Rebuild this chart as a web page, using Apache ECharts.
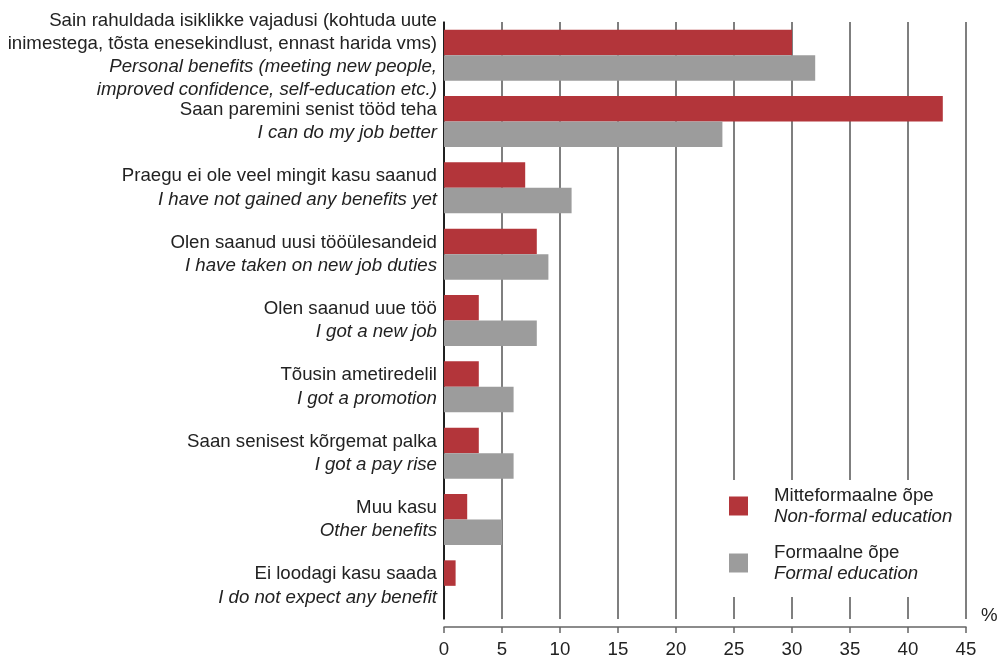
<!DOCTYPE html>
<html>
<head>
<meta charset="utf-8">
<script src="https://cdn.jsdelivr.net/npm/echarts@6/dist/echarts.min.js"></script>
<style>html,body{margin:0;padding:0;background:#fff}#c{width:998px;height:655px}</style>
</head>
<body>
<div id="c"></div>
<script>
var categoriesEt = [
  'Sain rahuldada isiklikke vajadusi (kohtuda uute\ninimestega, tõsta enesekindlust, ennast harida vms)',
  'Saan paremini senist tööd teha',
  'Praegu ei ole veel mingit kasu saanud',
  'Olen saanud uusi tööülesandeid',
  'Olen saanud uue töö',
  'Tõusin ametiredelil',
  'Saan senisest kõrgemat palka',
  'Muu kasu',
  'Ei loodagi kasu saada'
];
var categoriesEn = [
  'Personal benefits (meeting new people,\nimproved confidence, self-education etc.)',
  'I can do my job better',
  'I have not gained any benefits yet',
  'I have taken on new job duties',
  'I got a new job',
  'I got a promotion',
  'I got a pay rise',
  'Other benefits',
  'I do not expect any benefit'
];
var nonFormal = [30, 43, 7, 8, 3, 3, 3, 2, 1];
var formal = [32, 24, 11, 9, 8, 6, 6, 5, 0];
var seriesEt = ['Mitteformaalne õpe', 'Formaalne õpe'];
var seriesEn = ['Non-formal education', 'Formal education'];
var xTicks = [0, 5, 10, 15, 20, 25, 30, 35, 40, 45];

function richBlock(et, en) {
  var a = et.split('\n').map(function (s) { return '{a|' + s + '}'; });
  var b = en.split('\n').map(function (s) { return '{b|' + s + '}'; });
  return a.concat(b).join('\n');
}

var chart = echarts.init(document.getElementById('c'));
var FONT = '"Liberation Sans", Arial, sans-serif';
var FS = 18.67;
chart.setOption({
  animation: false,
  backgroundColor: '#fff',
  grid: { left: 444, right: 32, top: 22, bottom: 36, containLabel: false, outerBoundsMode: 'none' },
  legend: {
    orient: 'vertical',
    left: 700,
    top: 480,
    padding: [6, 10, 14, 29],
    backgroundColor: '#fff',
    itemWidth: 19,
    itemHeight: 19,
    itemGap: 17,
    icon: 'rect',
    data: seriesEt,
    formatter: function (name) {
      var i = seriesEt.indexOf(name);
      return '{a|' + name + '}\n{b|' + seriesEn[i] + '}';
    },
    textStyle: {
      padding: [0, 0, 0, 21],
      rich: {
        a: { fontFamily: FONT, fontSize: FS, lineHeight: 21, color: '#222' },
        b: { fontFamily: FONT, fontSize: FS, lineHeight: 21, color: '#222', fontStyle: 'italic' }
      }
    }
  },
  xAxis: {
    type: 'value',
    min: xTicks[0],
    max: xTicks[xTicks.length - 1],
    interval: xTicks[1] - xTicks[0],
    offset: 8,
    name: '%',
    nameLocation: 'end',
    nameGap: 15,
    nameTextStyle: { fontFamily: FONT, fontSize: FS, color: '#222', align: 'left', verticalAlign: 'bottom', padding: [0, 0, 2, 0] },
    axisLine: { show: true, lineStyle: { color: '#666', width: 1.5 } },
    axisTick: { show: true, length: 6, lineStyle: { color: '#666', width: 1.5 } },
    axisLabel: { margin: 13, fontFamily: FONT, fontSize: FS, color: '#222' },
    splitLine: { show: true, lineStyle: { color: '#555', width: 1.5 } }
  },
  yAxis: {
    type: 'category',
    inverse: true,
    data: categoriesEt.map(function (s, i) { return richBlock(s, categoriesEn[i]); }),
    axisLine: { show: true, lineStyle: { color: '#000', width: 1.5 } },
    axisTick: { show: false },
    axisLabel: {
      margin: 7,
      align: 'right',
      rich: {
        a: { fontFamily: FONT, fontSize: FS, lineHeight: 23, color: '#222', align: 'right' },
        b: { fontFamily: FONT, fontSize: FS, lineHeight: 23, color: '#222', fontStyle: 'italic', align: 'right' }
      }
    }
  },
  series: [
    { name: seriesEt[0], type: 'bar', data: nonFormal, barWidth: 25.5, barGap: '0%', itemStyle: { color: '#b3353a' } },
    { name: seriesEt[1], type: 'bar', data: formal, barWidth: 25.5, barGap: '0%', itemStyle: { color: '#9c9c9c' } }
  ]
});
</script>
</body>
</html>
